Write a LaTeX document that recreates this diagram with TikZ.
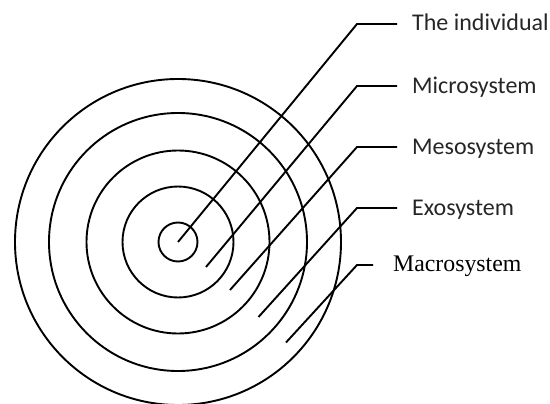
\documentclass[tikz,border=0pt]{standalone}
\usepackage{fontspec}
\setmainfont{Liberation Serif}
\newfontfamily\labsans{Carlito}
\begin{document}
\begin{tikzpicture}[x=1pt,y=-1pt,
  ring/.style={draw=black,line width=1.9pt},
  lead/.style={draw=black,line width=1.9pt,line join=miter},
  sanslab/.style={anchor=base west,inner sep=0pt,font=\labsans\fontsize{24}{28}\selectfont,text=black!85},
  seriflab/.style={anchor=base west,inner sep=0pt,font=\fontsize{23.8}{28}\selectfont,text=black}]
\useasboundingbox (0,0) rectangle (550,404);
\coordinate (ctr) at (178,242);
\draw[ring] (ctr) circle[radius=19.5];
\draw[ring] (ctr) circle[radius=55.5];
\draw[ring] (ctr) circle[radius=91.5];
\draw[ring] (ctr) circle[radius=129];
\draw[ring] (ctr) circle[radius=163];
% labels
\node[sanslab] (t1) at (412,31) {The individual};
\node[sanslab] (t2) at (412,93.5) {Microsystem};
\node[sanslab] (t3) at (412,154.5) {Mesosystem};
\node[sanslab] (t4) at (412,215.5) {Exosystem};
\node[seriflab] (t5) at (393,272) {Macrosystem};
% leader start and corner points
\coordinate (s1) at (178,242);
\coordinate (c1) at (357,24);
\coordinate (e1) at (397,24);
\coordinate (s2) at (206,267);
\coordinate (c2) at (357,86);
\coordinate (e2) at (397,86);
\coordinate (s3) at (230,290);
\coordinate (c3) at (357,147);
\coordinate (e3) at (397,147);
\coordinate (s4) at (258.5,317);
\coordinate (c4) at (357,208);
\coordinate (e4) at (397,208);
\coordinate (s5) at (286,342.5);
\coordinate (c5) at (357,265);
\coordinate (e5) at (373,265);
\draw[lead] (s1) -- (c1) -- (e1);
\draw[lead] (s2) -- (c2) -- (e2);
\draw[lead] (s3) -- (c3) -- (e3);
\draw[lead] (s4) -- (c4) -- (e4);
\draw[lead] (s5) -- (c5) -- (e5);
\end{tikzpicture}
\end{document}
